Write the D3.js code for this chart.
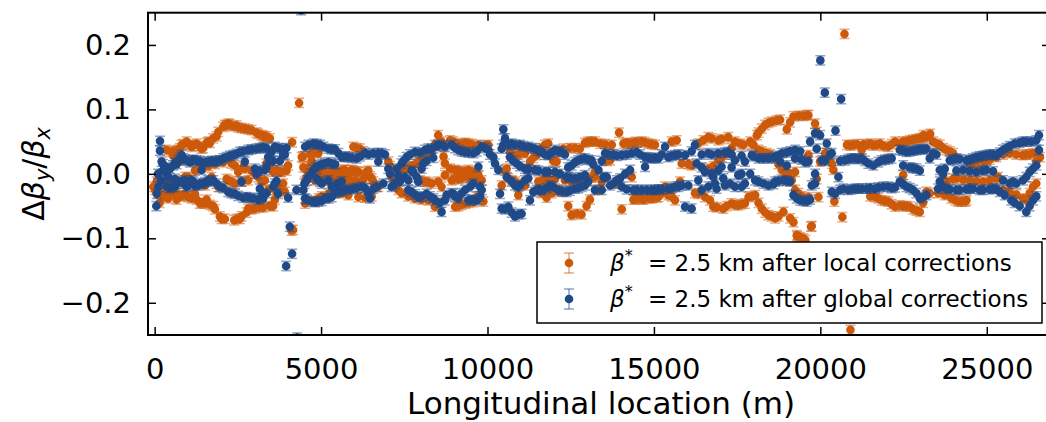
<!DOCTYPE html>
<html>
<head>
<meta charset="utf-8">
<script src="https://cdn.jsdelivr.net/npm/d3@7"></script>
<style>
  body { margin: 0; background: #fff; }
  svg { display: block; font-family: "DejaVu Sans", sans-serif; }
</style>
</head>
<body>
<div id="chart"></div>
<script>
// x tick values (m) and y tick values
const xTicks = [0, 5000, 10000, 15000, 20000, 25000];
const yTicks = [-0.2, -0.1, 0.0, 0.1, 0.2];
const legendLabels = ["= 2.5 km after local corrections", "= 2.5 km after global corrections"];

// half-width of the error bars
const errLocal = 0.0072;
const errGlobal = 0.0072;

// [longitudinal location (m), Δβy/βx] — beta* = 2.5 km after local corrections
const localCorr = [
  [-40,-0.02],[10,-0.025],[60,-0.012],[110,-0.03],[150,-0.045],[210,-0.018],[260,-0.033],[310,-0.036],[330,-0.017],
  [360,0.037],[410,-0.038],[460,-0.025],[460,-0.015],[510,0.034],[510,-0.03],[560,0.028],[560,0.035],[610,-0.031],
  [660,-0.04],[660,0.036],[660,-0.01],[710,0.037],[710,-0.033],[760,0.04],[760,-0.035],[810,0.045],[810,0.021],
  [860,-0.033],[860,0.046],[910,-0.005],[960,0.05],[960,-0.034],[1010,-0.036],[1010,-0.005],[1060,0.045],
  [1110,0.042],[1110,-0.038],[1160,-0.035],[1160,0.044],[1210,-0.031],[1210,0.005],[1260,0.047],[1260,-0.04],
  [1310,0.008],[1360,-0.046],[1360,0.043],[1410,0.039],[1410,-0.045],[1410,0.01],[1460,0.04],[1510,-0.046],
  [1510,-0.018],[1560,-0.04],[1560,0.048],[1610,0.05],[1610,0.012],[1660,0.048],[1660,-0.048],[1710,-0.005],
  [1760,-0.05],[1760,0.055],[1810,-0.055],[1810,0.015],[1860,0.058],[1910,0.065],[1910,-0.02],[1960,-0.066],
  [1960,0.021],[2010,-0.07],[2060,0.073],[2060,0.018],[2110,0.076],[2110,-0.07],[2160,0.075],[2160,-0.008],
  [2210,-0.01],[2210,0.078],[2260,0.077],[2310,0.016],[2310,-0.012],[2360,0.074],[2390,-0.072],[2410,0.013],
  [2410,-0.015],[2460,0.075],[2460,-0.07],[2510,0.072],[2510,0.003],[2560,-0.07],[2610,-0.066],[2610,0.071],
  [2610,-0.012],[2660,0.011],[2710,0.07],[2710,0.008],[2760,-0.06],[2810,-0.054],[2810,-0.01],[2810,0.069],
  [2910,0.068],[2910,-0.055],[2910,0.005],[3010,-0.054],[3010,0.0],[3060,0.064],[3110,0.062],[3110,-0.005],
  [3160,-0.052],[3210,-0.012],[3210,0.06],[3260,0.059],[3260,-0.052],[3310,0.057],[3310,-0.01],[3360,0.058],
  [3360,0.016],[3410,-0.025],[3460,0.055],[3460,-0.05],[3460,0.01],[3560,0.003],[3560,-0.05],[3610,-0.04],
  [3660,-0.028],[3660,0.005],[3710,-0.02],[3760,0.003],[3810,0.003],[3860,-0.015],[3910,-0.028],[3960,0.005],
  [4010,0.013],[4110,-0.088],[4130,0.049],[4160,-0.087],[4340,0.110],[4450,0.027],
  [4420,0.026],[4470,0.01],[4520,-0.012],[4520,-0.046],[4570,-0.005],[4620,0.003],[4670,0.012],[4670,0.03],
  [4720,0.02],[4720,-0.042],[4770,0.034],[4820,-0.01],[4870,0.0],[4870,0.033],[4920,0.032],[4920,-0.038],
  [4970,-0.005],[5020,0.005],[5020,-0.035],[5070,0.004],[5120,0.0],[5170,-0.01],[5220,-0.031],[5220,-0.008],
  [5270,0.002],[5320,0.003],[5370,0.005],[5420,-0.005],[5420,-0.03],[5470,-0.008],[5520,0.003],[5570,0.004],
  [5620,-0.006],[5620,-0.03],[5670,0.006],[5720,0.006],[5720,-0.012],[5770,0.002],[5820,-0.007],[5820,-0.033],
  [5870,-0.01],[5920,0.006],[5970,0.042],[5970,0.005],[6020,-0.01],[6070,0.004],[6070,0.04],[6120,0.003],
  [6120,-0.036],[6170,0.039],[6220,-0.012],[6270,-0.008],[6270,0.035],[6320,0.0],[6320,-0.037],[6370,0.003],
  [6420,0.005],[6470,-0.004],[6520,-0.007],[6520,-0.035],[6570,-0.012],[6620,-0.018],[6720,-0.02],
  [7020,0.019],[7070,0.012],[7120,-0.005],[7220,-0.01],[7220,-0.015],[7320,0.006],[7320,-0.025],[7420,0.008],
  [7420,-0.03],[7520,0.006],[7620,0.01],[7620,-0.035],[7720,0.011],[7820,-0.038],[7820,0.015],[7920,0.019],
  [7970,-0.01],[8020,0.022],[8020,-0.04],[8120,0.026],[8120,-0.012],[8220,-0.041],[8220,0.03],[8220,-0.013],
  [8320,0.034],[8320,-0.015],[8420,-0.051],[8420,0.045],[8520,0.06],[8520,-0.012],[8620,0.05],[8620,-0.02],
  [8680,0.027],[8720,-0.002],[8720,0.016],
  [8876,0.008],[8876,0.052],[8926,-0.01],[8976,0.05],[8976,-0.008],[9026,0.006],[9026,-0.051],[9126,0.047],
  [9126,0.005],[9126,-0.008],[9126,-0.05],[9226,0.003],[9226,-0.007],[9226,0.046],[9226,-0.048],[9326,-0.046],
  [9326,0.048],[9326,0.004],[9426,0.006],[9426,0.047],[9426,-0.006],[9426,-0.045],[9526,0.046],[9526,0.004],
  [9526,-0.008],[9576,0.0],[9576,-0.044],[9626,-0.007],[9676,-0.036],[9726,0.045],[9726,-0.002],[9776,-0.04],
  [9826,-0.01],[9876,-0.043],[9926,0.044],[10026,0.045],[10426,-0.018],[10526,0.005],[10576,0.008],
  [10626,-0.007],[10676,0.034],[10726,-0.01],[10776,0.03],[10826,-0.012],[10926,-0.033],[10926,0.03],
  [11026,-0.015],[11026,0.033],[11126,-0.018],[11126,0.032],[11276,0.019],[11376,0.025],[11476,0.029],
  [11526,-0.012],[11626,0.04],[11626,-0.03],[11676,-0.01],[11726,0.045],[11776,-0.037],[11826,0.047],
  [11826,-0.007],[11926,-0.03],[11976,0.02],[12026,-0.025],[12026,-0.008],[12076,0.019],[12126,-0.027],
  [12176,0.035],[12276,0.039],[12276,-0.028],[12326,-0.01],[12426,-0.05],[12476,0.04],[12526,-0.064],
  [12526,-0.012],[12626,0.04],[12676,-0.062],[12726,-0.01],[12776,0.039],[12826,-0.063],[12926,0.048],
  [12926,-0.008],[12976,-0.05],[13026,0.05],[13076,-0.04],[13126,0.05],[13126,-0.006],[13226,0.05],
  [13226,-0.005],[13226,0.003],
  [13334,-0.025],[13384,0.047],[13434,-0.012],[13534,0.046],[13584,0.02],[13684,0.021],[13734,0.045],
  [13834,-0.014],[13934,-0.015],[13954,0.064],[14034,-0.055],[14084,0.047],[14184,0.048],[14234,0.047],
  [14334,0.047],[14334,-0.005],[14384,-0.04],[14434,0.049],[14434,-0.039],[14484,0.049],[14534,-0.038],
  [14634,0.05],[14634,-0.039],[14684,-0.04],[14734,0.049],[14834,0.047],[14834,-0.038],[14934,0.046],
  [14934,-0.038],[14984,-0.037],[15034,0.045],[15084,-0.036],[15134,-0.036],[15234,-0.03],[15334,-0.02],
  [15434,-0.033],[15534,-0.035],[15534,0.05],[15634,-0.041],[15684,0.052],[15784,-0.012],[15834,0.016],
  [16034,0.015],[16134,0.013],[16234,-0.03],[16334,-0.031],[16334,0.047],[16484,0.052],[16534,-0.036],
  [16634,0.057],[16634,0.008],[16684,-0.041],[16734,0.055],[16784,-0.051],[16784,0.012],[16884,-0.052],
  [16934,0.052],[16934,0.021],[17034,0.054],[17034,0.025],[17084,-0.054],[17134,0.03],[17184,-0.05],
  [17234,0.057],[17334,-0.046],[17334,0.04],[17434,0.05],[17434,-0.048],[17534,-0.049],[17584,0.047],
  [17634,-0.047],[17684,0.045],[17734,-0.046],
  [17842,-0.036],[17892,0.05],[17942,0.047],[17942,-0.035],[17992,0.045],[18042,-0.033],[18092,0.06],
  [18142,0.064],[18142,0.037],[18142,-0.045],[18242,-0.054],[18242,0.07],[18242,0.035],[18342,0.076],
  [18342,-0.06],[18392,0.032],[18442,-0.064],[18442,0.079],[18492,0.03],[18542,0.081],[18542,-0.066],
  [18642,0.024],[18642,-0.069],[18692,0.083],[18742,0.015],[18742,-0.066],[18792,0.084],[18842,0.006],
  [18892,-0.059],[18942,0.003],[18992,0.069],[19042,0.0],[19092,-0.069],[19092,0.08],[19142,-0.01],
  [19192,0.089],[19192,-0.075],[19242,0.003],[19242,-0.025],[19292,-0.095],[19300,-0.097],[19342,0.09],
  [19342,-0.03],[19392,-0.098],[19442,-0.035],[19492,-0.1],[19492,0.09],[19550,-0.103],[19615,0.091],
  [19642,0.029],[19642,-0.036],[19642,0.091],[19720,-0.082],[19742,-0.081],[19842,0.078],[19892,0.065],
  [19892,-0.008],[19942,-0.036],[19992,0.019],[20142,0.032],[20242,0.024],[20342,0.016],[20392,0.006],
  [20422,-0.043],[20662,-0.067],[20725,0.217],[20905,-0.242],
  [20800,0.045],[20900,0.044],[21000,0.045],[21100,0.046],[21242,0.037],[21300,0.046],[21400,0.045],
  [21500,0.047],[21500,-0.035],[21600,0.044],[21642,-0.036],[21700,0.045],[21742,-0.038],[21792,0.047],
  [21842,-0.041],[21900,0.043],[21942,-0.042],[22042,0.042],[22042,-0.043],[22142,0.046],[22142,-0.047],
  [22242,0.05],[22242,-0.051],
  [22388,0.047],[22388,-0.049],[22488,-0.002],[22488,0.05],[22488,-0.05],[22588,0.05],[22588,-0.05],
  [22688,0.052],[22688,-0.051],[22788,0.053],[22788,-0.055],[22888,0.054],[22888,-0.057],[22988,0.055],
  [22988,-0.059],[23088,0.056],[23088,-0.045],[23100,0.06],[23188,0.057],[23188,-0.028],[23288,-0.03],
  [23300,0.062],[23388,0.05],[23488,0.047],[23538,-0.03],[23588,0.045],[23688,0.04],[23688,-0.01],
  [23738,-0.033],[23788,0.037],[23788,-0.012],[23888,0.035],[23938,-0.038],[23988,0.032],[23988,-0.008],
  [24060,-0.041],[24088,-0.007],[24138,-0.043],[24238,-0.043],[24288,-0.009],[24360,-0.043],[24388,-0.041],
  [24488,-0.01],[24488,0.012],[24588,0.016],[24688,0.018],[24688,-0.011],[24788,0.006],[24888,-0.012],
  [24888,0.02],[24988,0.021],[25088,0.022],[25088,-0.01],[25188,-0.023],[25288,-0.007],[25288,0.026],
  [25338,-0.005],[25488,0.03],[25488,-0.025],[25688,0.032],[25688,-0.028],[25888,0.03],[25888,-0.032],
  [26088,0.029],[26088,-0.038],[26188,-0.04],[26188,0.03],[26288,0.03],[26288,-0.03],[26388,0.032],
  [26388,-0.02],[26488,0.019],[26488,-0.015],[26600,0.026]
];

// [longitudinal location (m), Δβy/βx] — beta* = 2.5 km after global corrections
const globalCorr = [
  [50,-0.05],[60,-0.031],[100,0.0],[110,-0.02],[160,0.051],[160,0.036],[200,-0.01],[210,0.019],[250,0.015],
  [260,0.006],[310,0.003],[360,-0.02],[360,0.01],[410,-0.005],[460,0.008],[460,-0.022],[510,-0.02],[560,0.013],
  [610,-0.008],[610,0.017],[610,-0.02],[660,0.015],[660,-0.015],[710,0.021],[760,-0.012],[760,0.025],[810,0.029],
  [860,0.024],[860,-0.015],[910,-0.01],[910,0.022],[960,-0.02],[1010,-0.018],[1010,0.02],[1060,0.018],
  [1060,-0.014],[1110,-0.01],[1110,0.021],[1160,0.022],[1160,-0.012],[1210,-0.018],[1260,0.021],[1310,-0.018],
  [1360,0.02],[1360,-0.015],[1410,0.006],[1460,-0.015],[1510,0.018],[1510,-0.013],[1610,-0.01],[1610,0.019],
  [1660,-0.012],[1710,0.02],[1760,-0.01],[1810,0.019],[1860,0.02],[1860,-0.015],[1960,0.021],[1960,-0.02],
  [2060,0.024],[2060,-0.022],[2160,0.026],[2210,-0.028],[2260,0.028],[2310,-0.03],[2360,0.029],[2410,-0.031],
  [2460,0.031],[2510,-0.034],[2560,0.034],[2610,-0.012],[2660,-0.037],[2660,0.035],[2710,0.019],[2760,-0.036],
  [2810,0.037],[2860,-0.037],[2910,0.038],[2960,-0.038],[3010,0.008],[3060,0.039],[3060,0.0],[3110,-0.04],
  [3160,-0.023],[3160,0.04],[3160,0.005],[3210,-0.035],[3260,0.041],[3260,-0.038],[3310,0.006],[3360,0.04],
  [3360,-0.03],[3360,0.01],[3410,0.026],[3460,0.021],[3510,0.034],[3560,-0.02],[3560,0.02],[3610,0.042],
  [3610,-0.015],[3660,-0.011],[3710,-0.031],[3710,0.04],[3760,0.02],[3810,0.039],[3860,0.029],[3880,0.032],
  [3910,0.03],[3960,0.04],[3950,-0.143],[4010,-0.037],[4060,-0.082],[4130,-0.124],[4260,-0.025],[4280,-0.254],
  [4400,0.254],
  [4470,-0.025],[4500,-0.015],[4520,0.042],[4520,-0.038],[4570,-0.04],[4570,-0.01],[4618,-0.005],[4620,0.045],
  [4700,0.0],[4720,-0.043],[4768,0.006],[4770,0.047],[4820,-0.044],[4850,0.01],[4870,0.046],[4870,-0.008],
  [4918,0.013],[4920,-0.043],[4968,-0.012],[4970,0.045],[5020,-0.042],[5020,0.015],[5020,-0.015],[5070,0.042],
  [5118,0.016],[5120,-0.038],[5218,-0.01],[5220,0.039],[5220,-0.038],[5220,0.018],[5318,0.016],[5318,-0.02],
  [5320,-0.036],[5320,0.038],[5420,0.038],[5420,-0.03],[5420,0.015],[5420,-0.018],[5518,-0.015],[5520,-0.028],
  [5520,0.032],[5620,0.026],[5620,-0.027],[5620,-0.012],[5720,-0.025],[5720,0.027],[5820,0.026],[5870,-0.024],
  [5920,0.025],[5970,-0.023],[6070,0.024],[6070,-0.022],[6170,0.027],[6220,-0.02],[6320,0.032],[6320,-0.022],
  [6420,0.03],[6420,-0.03],[6470,-0.038],[6570,0.032],[6570,-0.023],[6670,-0.02],[6720,0.019],[6720,0.032],
  [6820,0.032],[6870,-0.015],[6920,0.03],
  [7020,0.008],[7070,0.0],[7120,-0.02],[7170,-0.018],[7220,-0.015],[7270,0.008],[7320,-0.002],[7370,-0.012],
  [7420,0.016],[7470,0.02],[7520,-0.005],[7570,0.026],[7620,-0.01],[7620,-0.025],[7670,0.03],[7720,-0.028],
  [7720,0.005],[7770,0.003],[7820,0.034],[7820,-0.032],[7870,-0.005],[7920,-0.012],[7920,-0.036],[7970,0.033],
  [8020,0.008],[8020,-0.035],[8070,0.016],[8120,0.037],[8170,-0.031],[8170,0.02],[8220,0.039],[8270,-0.035],
  [8320,0.039],[8370,-0.038],[8370,0.025],[8420,-0.041],[8470,0.043],[8520,0.045],[8570,-0.045],[8620,-0.059],
  [8670,0.044],[8720,0.042],[8720,-0.041],[8770,-0.033],
  [8926,0.045],[8926,-0.03],[8976,-0.031],[9026,0.04],[9026,-0.035],[9126,0.037],[9126,-0.038],[9226,0.035],
  [9226,-0.03],[9326,0.034],[9326,-0.025],[9426,-0.041],[9426,0.033],[9476,-0.02],[9526,-0.04],[9576,0.032],
  [9576,-0.015],[9676,-0.041],[9676,0.035],[9726,0.011],[9776,-0.02],[9776,-0.035],[9826,0.042],[9826,-0.025],
  [9926,0.04],[10026,0.037],[10076,0.03],[10176,0.026],[10226,0.016],[10326,0.006],[10376,-0.031],
  [10426,0.039],[10426,-0.054],[10476,0.069],[10476,0.045],[10526,0.055],[10526,-0.055],[10576,-0.005],
  [10626,-0.051],[10626,0.045],[10676,0.026],[10726,0.047],[10726,-0.06],[10726,-0.012],[10776,0.02],
  [10826,-0.066],[10826,-0.018],[10826,0.045],[10876,0.016],[10926,-0.063],[10926,-0.02],[10976,0.045],
  [10976,-0.018],[10976,0.012],[11026,-0.062],[11076,0.043],[11126,0.008],[11126,-0.01],[11226,0.042],
  [11226,-0.007],[11226,0.007],[11276,-0.041],[11326,0.04],[11376,-0.028],[11426,0.039],[11426,0.006],
  [11476,-0.025],[11526,0.036],[11526,0.005],[11576,-0.025],[11626,0.034],[11676,-0.025],[11726,0.003],
  [11726,0.03],[11776,-0.022],[11826,0.029],[11826,0.003],[11876,-0.018],[11926,0.033],[11976,-0.02],
  [12026,0.037],[12026,0.003],[12126,-0.025],[12126,0.035],[12176,0.0],[12226,0.034],[12226,-0.027],
  [12326,0.03],[12376,-0.005],[12376,-0.028],[12426,0.01],[12476,-0.006],[12476,-0.026],[12526,0.013],
  [12626,-0.007],[12626,-0.023],[12626,0.018],[12726,0.021],[12726,-0.022],[12776,-0.005],[12826,-0.02],
  [12826,0.023],[12926,-0.002],[12926,0.024],[12926,-0.018],[13026,-0.012],[13026,0.022],[13126,0.021],
  [13176,0.015],[13226,-0.025],
  [13334,0.006],[13434,-0.025],[13434,0.02],[13484,-0.005],[13534,0.032],[13584,-0.005],[13634,0.03],
  [13684,-0.018],[13784,0.03],[13784,-0.015],[13884,0.028],[13884,-0.01],[13984,-0.007],[14034,0.029],
  [14034,-0.02],[14134,0.0],[14184,0.03],[14184,-0.024],[14284,0.006],[14334,0.032],[14384,-0.025],
  [14484,0.034],[14484,-0.025],[14584,0.03],[14634,-0.025],[14734,0.011],[14734,0.026],[14784,-0.025],
  [14834,0.025],[14934,0.024],[14934,-0.025],[15034,0.025],[15034,-0.025],[15134,0.024],[15134,-0.024],
  [15234,0.03],[15234,-0.024],[15334,0.042],[15434,0.026],[15434,-0.023],[15534,0.028],[15534,-0.022],
  [15634,0.029],[15634,-0.02],[15734,-0.02],[15734,0.03],[15834,-0.018],[15934,0.029],[15934,-0.051],
  [16034,-0.018],[16134,-0.054],[16134,0.035],[16234,0.045],[16284,0.016],[16334,-0.01],[16434,-0.025],
  [16434,0.03],[16434,0.01],[16534,0.003],[16634,0.032],[16634,-0.02],[16734,0.03],[16734,0.0],[16784,-0.005],
  [16834,-0.015],[16884,-0.023],[16934,0.032],[16934,0.005],[17034,0.011],[17084,-0.007],[17134,0.033],
  [17134,-0.018],[17234,0.034],[17284,-0.015],[17334,0.03],[17334,0.01],[17434,0.021],[17434,-0.02],
  [17534,-0.002],[17634,-0.02],[17634,0.028],[17634,0.0],[17734,0.019],[17734,-0.015],
  [17892,0.0],[17942,0.029],[17992,0.027],[18042,-0.01],[18142,0.024],[18142,-0.012],[18292,-0.015],
  [18292,0.024],[18442,0.024],[18442,-0.018],[18592,0.025],[18592,-0.016],[18642,-0.012],[18692,0.028],
  [18742,-0.011],[18792,0.019],[18842,0.032],[18892,-0.01],[18992,0.013],[18992,0.033],[18992,-0.011],
  [19092,-0.012],[19092,0.035],[19192,-0.033],[19242,0.037],[19242,0.024],[19292,-0.038],[19392,-0.041],
  [19392,0.035],[19442,0.022],[19492,-0.042],[19542,0.018],[19592,-0.043],[19642,0.019],[19692,0.05],
  [19692,-0.04],[19742,-0.018],[19842,0.0],[19842,0.063],[19842,-0.015],[19892,0.039],[19992,0.06],
  [20000,0.176],[20042,0.021],[20135,0.126],[20142,0.02],[20192,0.047],[20292,0.03],[20342,0.032],
  [20342,-0.028],[20442,-0.031],[20455,0.067],[20542,-0.005],[20592,0.02],[20592,-0.025],[20625,0.116],
  [20692,-0.023],[20742,0.021],[20842,-0.025],[20842,0.023],[20942,0.024],[20942,-0.024],[21042,-0.023],
  [21042,0.024],[21142,0.023],[21142,-0.023],[21242,0.024],[21242,-0.023],[21342,0.02],[21392,-0.023],
  [21442,0.016],[21492,-0.022],[21592,0.013],[21642,-0.023],[21742,0.018],[21742,-0.021],[21842,0.021],
  [21892,-0.02],[21942,0.022],[22042,0.023],[22042,-0.02],[22142,0.024],[22142,-0.022],[22242,-0.021],
  [22388,0.037],[22388,-0.012],[22488,0.013],[22488,0.036],[22488,-0.016],[22588,0.034],[22588,-0.02],
  [22688,0.035],[22688,0.01],[22688,-0.022],[22788,-0.025],[22788,0.036],[22788,0.009],[22888,0.037],
  [22888,0.008],[22888,-0.03],[22988,-0.038],[22988,0.038],[22988,0.005],[23088,0.038],[23088,-0.036],
  [23188,0.039],[23188,-0.033],[23288,0.024],[23388,0.032],[23488,0.03],[23538,-0.023],[23588,0.006],
  [23588,-0.012],[23688,0.0],[23688,-0.02],[23738,0.008],[23788,-0.023],[23888,0.021],[23888,-0.024],
  [23988,0.022],[24088,0.024],[24088,-0.025],[24088,0.005],[24188,-0.025],[24188,0.023],[24288,0.006],
  [24388,0.021],[24388,-0.024],[24488,-0.023],[24488,0.022],[24488,0.004],[24588,0.024],[24588,-0.023],
  [24688,0.026],[24688,0.003],[24788,0.027],[24788,-0.025],[24888,-0.025],[24888,0.028],[24888,0.005],
  [24988,0.029],[24988,0.006],[25088,0.03],[25088,-0.024],[25188,0.03],[25188,-0.023],[25188,0.004],
  [25288,0.029],[25288,-0.023],[25388,0.033],[25388,-0.028],[25488,0.037],[25488,-0.01],[25538,-0.033],
  [25588,0.04],[25688,-0.015],[25688,0.043],[25738,-0.041],[25788,-0.012],[25838,0.047],[25838,-0.045],
  [25888,-0.015],[25988,0.048],[25988,-0.05],[26088,0.05],[26088,-0.01],[26188,-0.005],[26188,-0.059],
  [26188,0.05],[26288,0.003],[26288,-0.05],[26338,0.05],[26388,-0.041],[26388,0.008],[26488,0.013],
  [26488,0.052],[26488,-0.035],[26568,0.06],[26568,0.037]
];

const W = 1046, H = 422;
const plot = { left: 148, right: 1050, top: 12.7, bottom: 335 };
const colorLocal = "#cc5a0a";
const colorGlobal = "#204a87";

const svg = d3.select("#chart").append("svg")
  .attr("width", W)
  .attr("height", H);

const x = d3.scaleLinear().domain([-200, 26900]).range([plot.left, plot.right]);
const y = d3.scaleLinear().domain([-0.25, 0.25]).range([plot.bottom, plot.top]);

svg.append("clipPath").attr("id", "plot-clip")
  .append("rect")
  .attr("x", plot.left).attr("y", plot.top)
  .attr("width", plot.right - plot.left).attr("height", plot.bottom - plot.top);

const marks = svg.append("g").attr("clip-path", "url(#plot-clip)");

// error bars + dots, orange drawn first, blue on top
function drawSeries(data, err, color) {
  const g = marks.append("g");
  const bars = g.append("g")
    .attr("stroke", color)
    .attr("stroke-opacity", 0.5)
    .attr("stroke-width", 1.5);
  bars.selectAll("line.bar")
    .data(data)
    .join("line")
      .attr("class", "bar")
      .attr("x1", d => x(d[0])).attr("x2", d => x(d[0]))
      .attr("y1", d => y(d[1] - err)).attr("y2", d => y(d[1] + err));
  bars.selectAll("line.capHi")
    .data(data)
    .join("line")
      .attr("class", "capHi")
      .attr("x1", d => x(d[0]) - 5).attr("x2", d => x(d[0]) + 5)
      .attr("y1", d => y(d[1] + err)).attr("y2", d => y(d[1] + err));
  bars.selectAll("line.capLo")
    .data(data)
    .join("line")
      .attr("class", "capLo")
      .attr("x1", d => x(d[0]) - 5).attr("x2", d => x(d[0]) + 5)
      .attr("y1", d => y(d[1] - err)).attr("y2", d => y(d[1] - err));
  g.append("g").selectAll("circle")
    .data(data)
    .join("circle")
      .attr("cx", d => x(d[0]))
      .attr("cy", d => y(d[1]))
      .attr("r", 4.3)
      .attr("fill", color);
}

drawSeries(localCorr, errLocal, colorLocal);
drawSeries(globalCorr, errGlobal, colorGlobal);

// axes: ticks pointing inward on all four sides
const tickLen = 8;
const styleAxis = ax => {
  ax.select(".domain").remove();
  ax.selectAll(".tick line").attr("stroke", "#000").attr("stroke-width", 1.5);
  ax.selectAll("text").attr("font-size", 29).attr("fill", "#000").attr("font-family", "DejaVu Sans");
};

svg.append("g")
  .attr("transform", `translate(0,${plot.bottom})`)
  .call(d3.axisBottom(x).tickValues(xTicks).tickFormat(d3.format("d")).tickSize(-tickLen).tickPadding(23))
  .call(styleAxis);

svg.append("g")
  .attr("transform", `translate(0,${plot.top})`)
  .call(d3.axisTop(x).tickValues(xTicks).tickFormat("").tickSize(-tickLen))
  .call(styleAxis);

svg.append("g")
  .attr("transform", `translate(${plot.left},0)`)
  .call(d3.axisLeft(y).tickValues(yTicks).tickFormat(d3.format(".1f")).tickSize(-tickLen).tickPadding(17))
  .call(styleAxis);

svg.append("g")
  .attr("transform", `translate(${plot.right},0)`)
  .call(d3.axisRight(y).tickValues(yTicks).tickFormat("").tickSize(-tickLen))
  .call(styleAxis);

// frame
svg.append("rect")
  .attr("x", plot.left).attr("y", plot.top)
  .attr("width", plot.right - plot.left).attr("height", plot.bottom - plot.top)
  .attr("fill", "none")
  .attr("stroke", "#000")
  .attr("stroke-width", 2);

// x label
svg.append("text")
  .attr("x", (plot.left + plot.right) / 2 + 2)
  .attr("y", 414)
  .attr("text-anchor", "middle")
  .attr("font-size", 31)
  .text("Longitudinal location (m)");

// y label: Δβ_y / β_x
const yl = svg.append("text")
  .attr("transform", `translate(44,${(plot.top + plot.bottom) / 2}) rotate(-90)`)
  .attr("text-anchor", "middle")
  .attr("font-size", 30);
yl.append("tspan").text("Δ");
yl.append("tspan").attr("font-style", "italic").text("β");
yl.append("tspan").attr("font-style", "italic").attr("font-size", 21).attr("dy", 6).text("y");
yl.append("tspan").attr("dy", -6).text("/");
yl.append("tspan").attr("font-style", "italic").text("β");
yl.append("tspan").attr("font-style", "italic").attr("font-size", 21).attr("dy", 6).text("x");

// legend
const legend = svg.append("g");
legend.append("rect")
  .attr("x", 537).attr("y", 242)
  .attr("width", 505).attr("height", 81)
  .attr("fill", "#fff")
  .attr("stroke", "#000")
  .attr("stroke-width", 1.5);

const legendRows = [
  { color: colorLocal, label: legendLabels[0], cy: 263 },
  { color: colorGlobal, label: legendLabels[1], cy: 299 }
];
legendRows.forEach(r => {
  const gl = legend.append("g");
  gl.append("g")
    .attr("stroke", r.color).attr("stroke-opacity", 0.5).attr("stroke-width", 1.5)
    .call(s => {
      s.append("line").attr("x1", 569).attr("x2", 569).attr("y1", r.cy - 10).attr("y2", r.cy + 10);
      s.append("line").attr("x1", 564).attr("x2", 574).attr("y1", r.cy - 10).attr("y2", r.cy - 10);
      s.append("line").attr("x1", 564).attr("x2", 574).attr("y1", r.cy + 10).attr("y2", r.cy + 10);
    });
  gl.append("circle").attr("cx", 569).attr("cy", r.cy).attr("r", 4.3).attr("fill", r.color);
  const t = gl.append("text")
    .attr("y", r.cy + 8)
    .attr("font-size", 23);
  t.append("tspan").attr("x", 610).attr("font-style", "italic").text("β");
  t.append("tspan").attr("font-size", 16).attr("dy", -10).text("*");
  t.append("tspan").attr("x", 648).attr("dy", 10).text(r.label);
});
</script>
</body>
</html>
